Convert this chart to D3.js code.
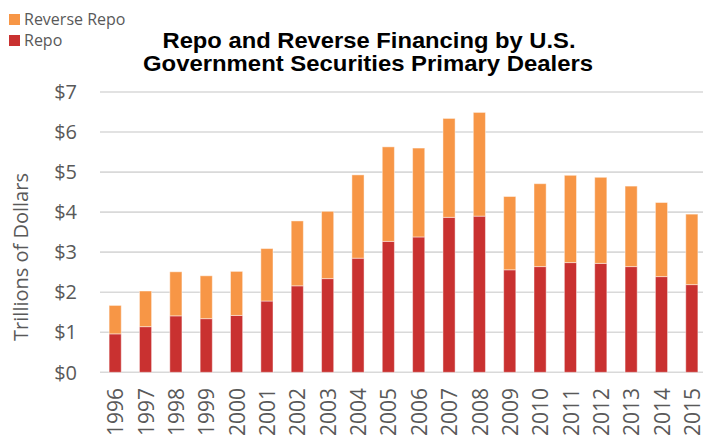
<!DOCTYPE html>
<html>
<head>
<meta charset="utf-8">
<script src="https://cdn.jsdelivr.net/npm/d3@7"></script>
<style>
  body { margin: 0; background: #fff; }
  svg { display: block; }
</style>
</head>
<body>
<div class="chart"></div>
<script>
const years = ['1996','1997','1998','1999','2000','2001','2002','2003','2004','2005',
               '2006','2007','2008','2009','2010','2011','2012','2013','2014','2015']
const repo = [0.96, 1.14, 1.41, 1.34, 1.42, 1.78, 2.16, 2.34, 2.85, 3.27,
              3.38, 3.87, 3.90, 2.56, 2.64, 2.74, 2.72, 2.64, 2.39, 2.19]
const reverseRepo = [0.71, 0.89, 1.10, 1.07, 1.10, 1.31, 1.62, 1.68, 2.08, 2.36,
                     2.22, 2.47, 2.59, 1.83, 2.07, 2.18, 2.15, 2.01, 1.85, 1.76]
const yTicks = [0, 1, 2, 3, 4, 5, 6, 7]
const seriesNames = ['Reverse Repo', 'Repo']
const colors = { 'Repo': '#c93130', 'Reverse Repo': '#f79646' }

const width = 703
const height = 437

const svg = d3.select('.chart')
  .append('svg')
  .attr('width', width)
  .attr('height', height)

const x = d3.scaleBand().domain(years).range([100, 707]).paddingInner(0.6).paddingOuter(0.3)
const y = d3.scaleLinear().domain([0, 7]).range([372.3, 92])

// gridlines
svg.append('g')
  .selectAll('line')
  .data(yTicks)
  .enter()
  .append('line')
    .attr('x1', 100)
    .attr('x2', 707)
    .attr('y1', d => y(d))
    .attr('y2', d => y(d))
    .style('stroke', '#d9d9d9')
    .style('stroke-width', '1.6px')

// y tick labels
svg.append('g')
  .selectAll('text')
  .data(yTicks)
  .enter()
  .append('text')
    .attr('x', 77)
    .attr('y', d => y(d))
    .attr('dy', '0.36em')
    .attr('text-anchor', 'end')
    .style('font-family', '"Open Sans", sans-serif')
    .style('font-size', '20px')
    .style('fill', '#595959')
    .text(d => '$' + d)

// stacked bars
const rows = years.map((yr, i) => ({ year: yr, 'Repo': repo[i], 'Reverse Repo': reverseRepo[i] }))
const stack = d3.stack().keys(['Repo', 'Reverse Repo'])(rows)

svg.append('g')
  .selectAll('g')
  .data(stack)
  .enter()
  .append('g')
    .style('fill', d => colors[d.key])
  .selectAll('rect')
  .data(d => d)
  .enter()
  .append('rect')
    .attr('x', d => x(d.data.year))
    .attr('y', d => y(d[1]))
    .attr('width', x.bandwidth())
    .attr('height', d => y(d[0]) - y(d[1]))
    .style('stroke', 'rgba(255,255,255,0.45)')
    .style('stroke-width', '1px')

// x labels
svg.append('g')
  .selectAll('text')
  .data(years)
  .enter()
  .append('text')
    .attr('transform', d => `translate(${x(d) + x.bandwidth() / 2 + 1},388) rotate(-90)`)
    .attr('dy', '0.34em')
    .attr('text-anchor', 'end')
    .style('font-family', '"Open Sans", sans-serif')
    .style('font-size', '21px')
    .style('fill', '#595959')
    .text(d => d)

// y axis title
svg.append('text')
  .attr('transform', 'translate(21,257) rotate(-90)')
  .attr('dy', '0.36em')
  .attr('text-anchor', 'middle')
  .style('font-family', '"Open Sans", sans-serif')
  .style('font-size', '20px')
  .style('fill', '#595959')
  .text('Trillions of Dollars')

// title
const title = svg.append('text')
  .attr('text-anchor', 'middle')
  .style('font-family', '"Liberation Sans", Arial, sans-serif')
  .style('font-weight', 'bold')
  .style('font-size', '22px')
  .style('fill', '#000')
title.append('tspan').attr('x', 369).attr('y', 48)
  .attr('textLength', 413).attr('lengthAdjust', 'spacingAndGlyphs')
  .text('Repo and Reverse Financing by U.S.')
title.append('tspan').attr('x', 368).attr('y', 71)
  .attr('textLength', 450).attr('lengthAdjust', 'spacingAndGlyphs')
  .text('Government Securities Primary Dealers')

// legend
const legend = svg.append('g')
  .selectAll('g')
  .data(seriesNames)
  .enter()
  .append('g')
    .attr('transform', (d, i) => `translate(9,${14 + i * 21})`)
legend.append('rect')
  .attr('width', 11)
  .attr('height', 11)
  .style('fill', d => colors[d])
legend.append('text')
  .attr('x', 15)
  .attr('y', 11)
  .style('font-family', '"Open Sans", sans-serif')
  .style('font-size', '16px')
  .style('fill', '#595959')
  .text(d => d)
</script>
</body>
</html>
